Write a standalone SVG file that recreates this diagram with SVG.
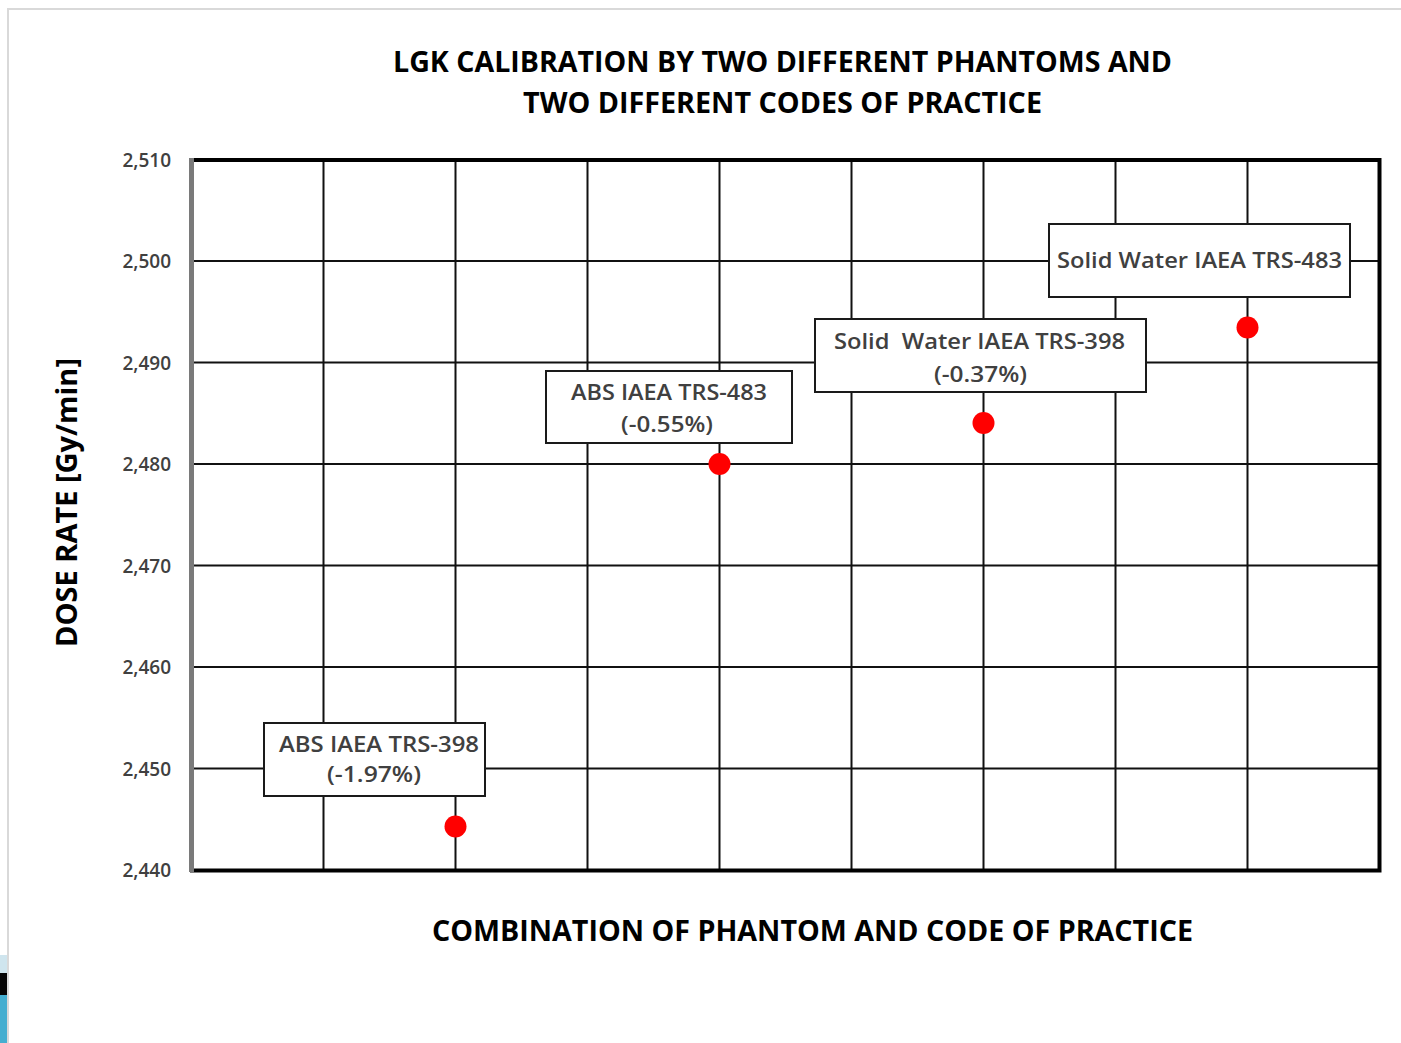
<svg xmlns="http://www.w3.org/2000/svg" width="1401" height="1043" viewBox="0 0 1401 1043">
<style>
.t{font-family:"Open Sans","Liberation Sans",sans-serif;font-weight:700;fill:#000;font-size:28px}
.tick{font-family:"Open Sans","Liberation Sans",sans-serif;font-size:19px;font-weight:600;fill:#404040;text-anchor:end}
.lbl{font-family:"Open Sans","Liberation Sans",sans-serif;font-size:22px;font-weight:600;fill:#404040;white-space:pre}
.grid{stroke:#111;stroke-width:2;fill:none}
.frame{stroke:#000;stroke-width:4;fill:none}
.box{fill:#fff;stroke:#1a1a1a;stroke-width:2}
.dot{fill:#ff0000}
</style>
<rect x="0" y="0" width="1401" height="1043" fill="#fff"/>
<g id="page-border">
<path d="M8 1043 V9 H1401" fill="none" stroke="#d9d9d9" stroke-width="2"/>
<rect x="0" y="955" width="7" height="18" fill="#cfe5ee"/>
<rect x="0" y="973" width="7" height="22" fill="#050505"/>
<rect x="0" y="995" width="7" height="48" fill="#45aed0"/>
</g>
<g id="title">
<text class="t" x="393" y="72" textLength="779" lengthAdjust="spacingAndGlyphs">LGK CALIBRATION BY TWO DIFFERENT PHANTOMS AND</text>
<text class="t" x="523" y="113" textLength="519" lengthAdjust="spacingAndGlyphs">TWO DIFFERENT CODES OF PRACTICE</text>
</g>
<g id="grid">
<path class="grid" d="M323.5 159.5V870.5M455.5 159.5V870.5M587.5 159.5V870.5M719.5 159.5V870.5M851.5 159.5V870.5M983.5 159.5V870.5M1115.5 159.5V870.5M1247.5 159.5V870.5"/>
<path class="grid" d="M191.5 261H1379.5M191.5 362.5H1379.5M191.5 464H1379.5M191.5 565.5H1379.5M191.5 667H1379.5M191.5 768.5H1379.5"/>
<path class="frame" d="M190 160H1379.5V870.5H190"/>
<line x1="191.5" y1="158" x2="191.5" y2="872" stroke="#7a7a7a" stroke-width="5"/>
</g>
<g id="y-axis">
<text class="tick" x="171" y="167">2,510</text>
<text class="tick" x="171" y="268">2,500</text>
<text class="tick" x="171" y="370">2,490</text>
<text class="tick" x="171" y="471">2,480</text>
<text class="tick" x="171" y="573">2,470</text>
<text class="tick" x="171" y="674">2,460</text>
<text class="tick" x="171" y="776">2,450</text>
<text class="tick" x="171" y="877">2,440</text>
<text class="t" transform="translate(77,647) rotate(-90)" x="0" y="0" textLength="289" lengthAdjust="spacingAndGlyphs">DOSE RATE [Gy/min]</text>
</g>
<g id="x-axis">
<text class="t" x="432" y="941" textLength="761" lengthAdjust="spacingAndGlyphs">COMBINATION OF PHANTOM AND CODE OF PRACTICE</text>
</g>
<g id="point-abs-398">
<rect class="box" x="264" y="723" width="221" height="73"/>
<text class="lbl" x="279" y="752" textLength="200" lengthAdjust="spacingAndGlyphs">ABS IAEA TRS-398</text>
<text class="lbl" x="327" y="782" textLength="94" lengthAdjust="spacingAndGlyphs">(-1.97%)</text>
<circle class="dot" cx="455.5" cy="826.5" r="11"/>
</g>
<g id="point-abs-483">
<rect class="box" x="546" y="371" width="246" height="72"/>
<text class="lbl" x="571" y="400" textLength="196" lengthAdjust="spacingAndGlyphs">ABS IAEA TRS-483</text>
<text class="lbl" x="621" y="432" textLength="92" lengthAdjust="spacingAndGlyphs">(-0.55%)</text>
<circle class="dot" cx="719.5" cy="464" r="11"/>
</g>
<g id="point-sw-398">
<rect class="box" x="815" y="319" width="331" height="73"/>
<text class="lbl" x="834" y="349" textLength="291" lengthAdjust="spacingAndGlyphs">Solid  Water IAEA TRS-398</text>
<text class="lbl" x="934" y="382" textLength="93" lengthAdjust="spacingAndGlyphs">(-0.37%)</text>
<circle class="dot" cx="983.5" cy="423" r="11"/>
</g>
<g id="point-sw-483">
<rect class="box" x="1049" y="224" width="301" height="73"/>
<text class="lbl" x="1057" y="268" textLength="285" lengthAdjust="spacingAndGlyphs">Solid Water IAEA TRS-483</text>
<circle class="dot" cx="1247.5" cy="327.5" r="11"/>
</g>
<g id="connectors"/>
</svg>
